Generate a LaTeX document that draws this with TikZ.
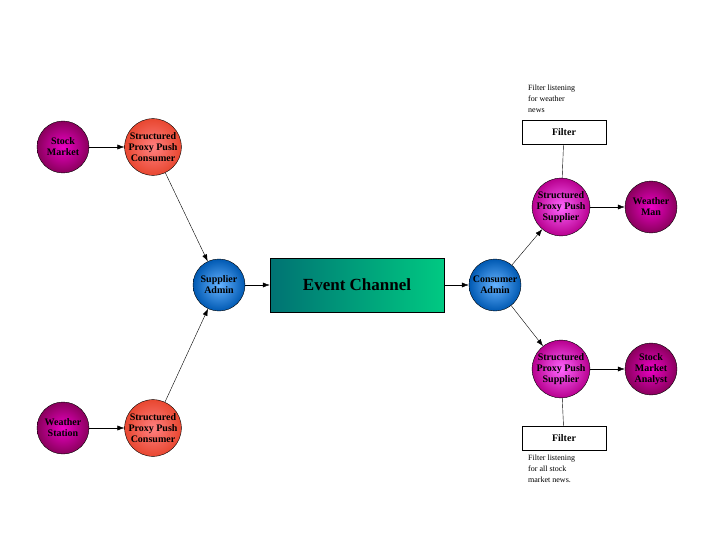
\documentclass[tikz,border=0pt]{standalone}
\usepackage{fontspec}
\setmainfont{Liberation Serif}
\usetikzlibrary{arrows.meta}
\begin{document}
\begin{tikzpicture}[x=1pt,y=-1pt,
  circ/.style={circle,draw=black,minimum size=52pt,inner sep=0pt,align=center,font=\bfseries\fontsize{10}{11}\selectfont},
  purp/.style={circ,inner color=purple!30!magenta,outer color=violet!60!purple!90!black},
  redc/.style={circ,inner color=red!50!white,outer color=red!60!brown!90},
  bluec/.style={circ,inner color=cyan!50!blue!60,outer color=blue!50!cyan!70!black},
  pinkc/.style={circ,inner color=magenta!60!white,outer color=magenta!60!purple!80!black},
  filt/.style={draw=black,fill=white,minimum width=84pt,minimum height=24pt,inner sep=0pt,font=\bfseries\fontsize{10}{11}\selectfont},
  note/.style={align=left,font=\fontsize{8}{11}\selectfont,anchor=north west,inner sep=0pt},
  arr/.style={-{Latex[length=7pt,width=5pt]},black}]
\useasboundingbox (0,0) rectangle (720,540);
\node[purp] (sm) at (63,147) {Stock\\Market};
\node[redc] (c1) at (153,147) {Structured\\Proxy Push\\Consumer};
\node[purp] (ws) at (63,428) {Weather\\Station};
\node[redc] (c2) at (153,428) {Structured\\Proxy Push\\Consumer};
\node[bluec] (sa) at (219,285) {Supplier\\Admin};
\node[draw=black,left color=teal!90!black,right color=teal!60!green!70!cyan,minimum width=174pt,minimum height=54pt,font=\bfseries\fontsize{17}{20}\selectfont] (ec) at (357,285) {Event Channel};
\node[bluec] (ca) at (495,285) {Consumer\\Admin};
\node[pinkc] (s1) at (561,207) {Structured\\Proxy Push\\Supplier};
\node[purp] (wm) at (651,207) {Weather\\Man};
\node[pinkc] (s2) at (561,369) {Structured\\Proxy Push\\Supplier};
\node[purp] (sma) at (651,369) {Stock\\Market\\Analyst};
\node[filt] (f1) at (564,132) {Filter};
\node[filt] (f2) at (564,438) {Filter};
\node[note] (n1) at (528,85) {Filter listening\\for weather\\news};
\node[note] (n2) at (528,455) {Filter listening\\for all stock\\market news.};
\draw[arr] (sm) -- (c1);
\draw[arr] (ws) -- (c2);
\draw[arr] (c1) -- (sa);
\draw[arr] (c2) -- (sa);
\draw[arr] (sa) -- (ec);
\draw[arr] (ec) -- (ca);
\draw[arr] (ca) -- (s1);
\draw[arr] (ca) -- (s2);
\draw[arr] (s1) -- (wm);
\draw[arr] (s2) -- (sma);
\draw (f1) -- (s1);
\draw (f2) -- (s2);
\end{tikzpicture}
\end{document}
